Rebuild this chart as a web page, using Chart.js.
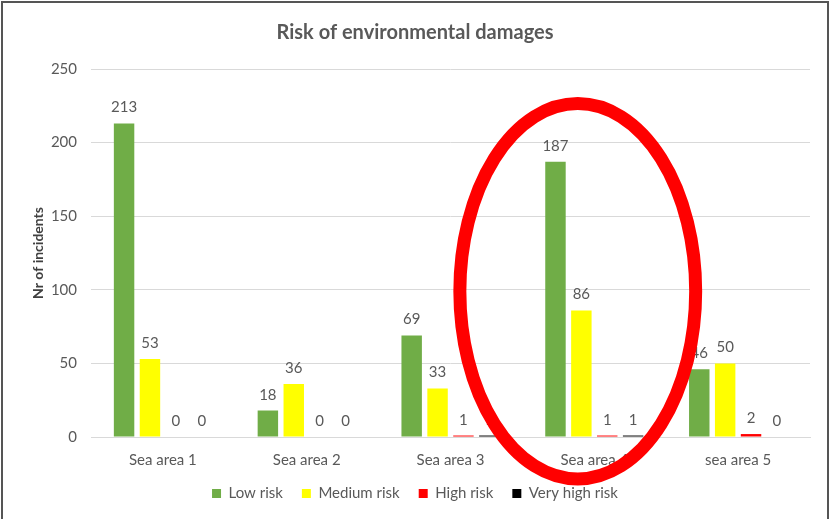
<!DOCTYPE html>
<html>
<head>
<meta charset="utf-8">
<title>Risk of environmental damages</title>
<script src="https://cdn.jsdelivr.net/npm/chart.js@4.4.0/dist/chart.umd.min.js"></script>
<style>
  html, body { margin: 0; padding: 0; background: #fff; }
  #wrap { position: relative; width: 833px; height: 519px; overflow: hidden; }
  #frame { position: absolute; left: 1px; top: 1px; width: 824px; height: 530px; border: 2px solid #555; pointer-events: none; }
  canvas { position: absolute; left: 0; top: 0; }
</style>
</head>
<body>
<div id="wrap">
  <canvas id="chart" width="833" height="519"></canvas>
  <div id="frame"></div>
</div>
<script>
const categories = ['Sea area 1', 'Sea area 2', 'Sea area 3', 'Sea area 4', 'sea area 5'];
const lowRisk = [213, 18, 69, 187, 46];
const mediumRisk = [53, 36, 33, 86, 50];
const highRisk = [0, 0, 1, 1, 2];
const veryHighRisk = [0, 0, 1, 1, 0];
const yTicks = [0, 50, 100, 150, 200, 250];

const textGrey = '#595959';
const fontFamily = "Lato, 'Open Sans', sans-serif";

// Value labels above every bar
const dataLabelsPlugin = {
  id: 'valueLabels',
  afterDatasetsDraw(chart) {
    const ctx = chart.ctx;
    chart.data.datasets.forEach((dataset, i) => {
      const meta = chart.getDatasetMeta(i);
      if (meta.hidden) return;
      meta.data.forEach((bar, index) => {
        const value = dataset.data[index];
        ctx.save();
        ctx.fillStyle = textGrey;
        ctx.font = '15px ' + fontFamily;
        ctx.textAlign = 'center';
        ctx.textBaseline = 'alphabetic';
        ctx.fillText(String(value), bar.x, bar.y - 11);
        ctx.restore();
      });
    });
  }
};

// Red ellipse drawn over the chart to highlight Sea area 4
const highlightPlugin = {
  id: 'highlight',
  afterDraw(chart) {
    const x = chart.scales.x;
    const y = chart.scales.y;
    const catWidth = (x.right - x.left) / categories.length;
    const cx = x.getPixelForValue(3) - catWidth * 0.115;
    const cy = y.getPixelForValue(99);
    const rx = catWidth * 0.82;
    const ry = (y.getPixelForValue(0) - y.getPixelForValue(250)) * 0.51;
    const ctx = chart.ctx;
    ctx.save();
    ctx.strokeStyle = '#ff0000';
    ctx.lineWidth = 13;
    ctx.beginPath();
    ctx.ellipse(cx, cy, rx, ry, 0, 0, Math.PI * 2);
    ctx.stroke();
    ctx.restore();
  }
};

function series(label, data, color) {
  return {
    label: label,
    data: data,
    backgroundColor: color,
    borderWidth: 0,
    barPercentage: 0.79,
    categoryPercentage: 0.72
  };
}

new Chart(document.getElementById('chart'), {
  type: 'bar',
  data: {
    labels: categories,
    datasets: [
      series('Low risk', lowRisk, '#70ad47'),
      series('Medium risk', mediumRisk, '#ffff00'),
      series('High risk', highRisk, '#ff0000'),
      series('Very high risk', veryHighRisk, '#000000')
    ]
  },
  options: {
    responsive: false,
    animation: false,
    layout: { padding: { left: 20, right: 23, top: 8, bottom: 8 } },
    plugins: {
      title: {
        display: true,
        text: 'Risk of environmental damages',
        color: textGrey,
        font: { size: 20, weight: 'bold', family: fontFamily },
        padding: { top: 13, bottom: 24 }
      },
      legend: {
        display: true,
        position: 'bottom',
        labels: {
          boxWidth: 9,
          boxHeight: 9,
          padding: 19,
          color: textGrey,
          font: { size: 15, family: fontFamily }
        }
      },
      tooltip: { enabled: false }
    },
    scales: {
      y: {
        min: 0,
        max: 250,
        afterBuildTicks(scale) {
          scale.ticks = yTicks.map(v => ({ value: v }));
        },
        afterFit(scale) {
          scale.width = 71;
        },
        grid: { color: '#d9d9d9', drawTicks: false },
        border: { display: false },
        ticks: { color: textGrey, padding: 14, font: { size: 15, family: fontFamily } },
        title: {
          display: true,
          text: 'Nr of incidents',
          color: '#404040',
          font: { size: 14, weight: 'bold', family: fontFamily },
          padding: { top: 10, bottom: 4 }
        }
      },
      x: {
        afterFit(scale) {
          scale.height = 30;
        },
        grid: { display: false, drawTicks: false },
        border: { color: '#d9d9d9' },
        ticks: { color: textGrey, padding: 14, font: { size: 15, family: fontFamily } }
      }
    }
  },
  plugins: [dataLabelsPlugin, highlightPlugin]
});
</script>
</body>
</html>
